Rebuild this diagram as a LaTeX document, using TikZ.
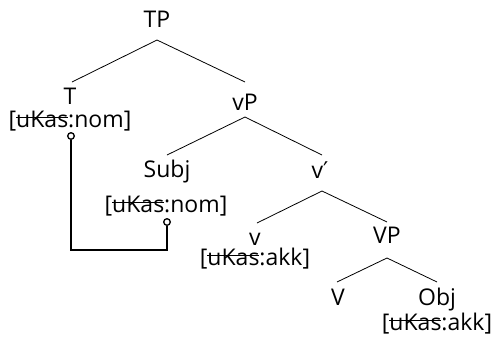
\documentclass[tikz,border=0pt]{standalone}
\usepackage{fontspec}
\setmainfont{Open Sans}
\newfontfamily\primefont{DejaVu Sans}
\usetikzlibrary{calc}
\newcommand\strk[1]{\setbox0\hbox{#1}\rlap{\raisebox{0.37em}{\rule{\wd0}{0.065em}}}#1}
\tikzset{
  lab/.style={anchor=base, inner sep=0pt, font=\fontsize{23}{27}\selectfont},
  edge/.style={line width=0.8pt},
  link/.style={line width=1.6pt},
  hook/.style={circle, draw, line width=1.3pt, inner sep=0pt, minimum size=6.6pt, fill=white},
}
\begin{document}
\begin{tikzpicture}[x=1pt,y=-1pt]
\useasboundingbox (0,0) rectangle (498,341);
% nodes
\node[lab] (TP) at (157,27) {TP};
\node[lab] (T) at (70,104) {T};
\node[lab] (Tf) at (70,127) {[\strk{uKas}:nom]};
\node[lab] (vP) at (245,110) {vP};
\node[lab] (Subj) at (167,177) {Subj};
\node[lab] (Subjf) at (166,212) {[\strk{uKas}:nom]};
\node[lab] (vbar) at (320,178) {v{\primefont ′}};
\node[lab] (v) at (255,245) {v};
\node[lab] (vf) at (255,265) {[\strk{uKas}:akk]};
\node[lab] (VP) at (387,243) {VP};
\node[lab] (V) at (338,305) {V};
\node[lab] (Obj) at (437,305) {Obj};
\node[lab] (Objf) at (437,330) {[\strk{uKas}:akk]};
% tree edges
\draw[edge] ($(TP.base)+(0,13)$) -- ($(T.base)+(2,-22)$);
\draw[edge] ($(TP.base)+(0,13)$) -- ($(vP.base)+(0,-28)$);
\draw[edge] ($(vP.base)+(0,7)$) -- ($(Subj.base)+(0,-22)$);
\draw[edge] ($(vP.base)+(0,7)$) -- ($(vbar.base)+(2,-23)$);
\draw[edge] ($(vbar.base)+(2,13)$) -- ($(v.base)+(2,-22)$);
\draw[edge] ($(vbar.base)+(2,13)$) -- ($(VP.base)+(0,-21)$);
\draw[edge] ($(VP.base)+(0,15)$) -- ($(V.base)+(-1,-23)$);
\draw[edge] ($(VP.base)+(0,15)$) -- ($(Obj.base)+(0,-23)$);
% agreement link
\node[hook] (c1) at (71,136) {};
\node[hook] (c2) at (167,222) {};
\coordinate (bend) at (71,250);
\draw[link] (c1.south) -- (bend) -| (c2.south);
\end{tikzpicture}
\end{document}
